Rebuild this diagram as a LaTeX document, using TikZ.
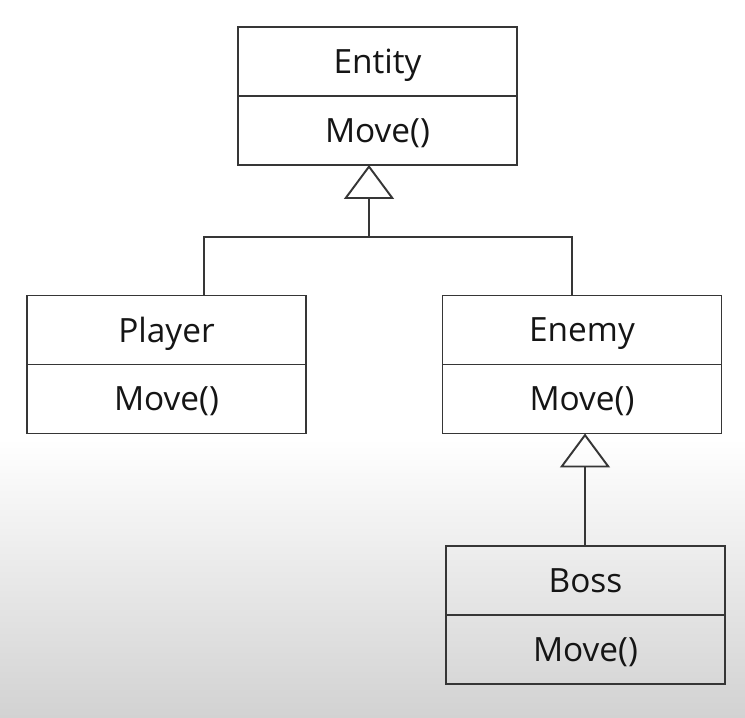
\documentclass[tikz,border=0pt]{standalone}
\usepackage{fontspec}
\setmainfont{Open Sans}
\usepackage{tikz}
\usetikzlibrary{
        arrows.meta,
        backgrounds,
        positioning,
        shapes
    }
\definecolor{umlline}{HTML}{363636}
\definecolor{umltext}{HTML}{151515}
\definecolor{bgray}{HTML}{D2D2D2}
\tikzset{>=Stealth,auto,node distance=0cm}
\tikzset{umlpart/.style={draw=umlline,line width=1.1pt,minimum width=5.58cm,
        minimum height=1.38cm,inner sep=0pt,outer sep=0pt,text=umltext,
        text depth=0pt,font=\fontsize{19}{21}\selectfont}}
\tikzset{inherit/.style={draw=umlline,line width=1.1pt,
        -{Triangle[open,width=1.0cm,length=0.68cm]}}}

\begin{document}
\begin{tikzpicture}[]
    \useasboundingbox (0,0) rectangle (14.9,14.36);
        \fill[white] (0,0) rectangle (14.9,14.36);
        \shade[top color=white,bottom color=bgray] (0,0) rectangle (14.9,5.6);
                \node[umlpart] (entity) at (7.55,13.13) {Entity};
                \node[umlpart] (entitym) [below=of entity] {Move()};
                \node[umlpart] (player) at (3.33,7.76) {Player};
                \node[umlpart] (playerm) [below=of player] {Move()};
                \node[umlpart] (enemy) at (11.64,7.76) {Enemy};
                \node[umlpart] (enemym) [below=of enemy] {Move()};
                \node[umlpart] (boss) at (11.71,2.75) {Boss};
                \node[umlpart] (bossm) [below=of boss] {Move()};
                \coordinate (join) at (7.38,9.62);
            \draw[draw=umlline,line width=1.1pt]
                    ([xshift=0.75cm]player.north) |- (join)
                    -| ([xshift=-0.2cm]enemy.north);
            \draw[inherit] (join) -- (join |- entitym.south);
            \draw[inherit] ([xshift=-0.01cm]boss.north) -- ([xshift=-0.01cm]boss.north |- enemym.south);
\end{tikzpicture}
\end{document}
